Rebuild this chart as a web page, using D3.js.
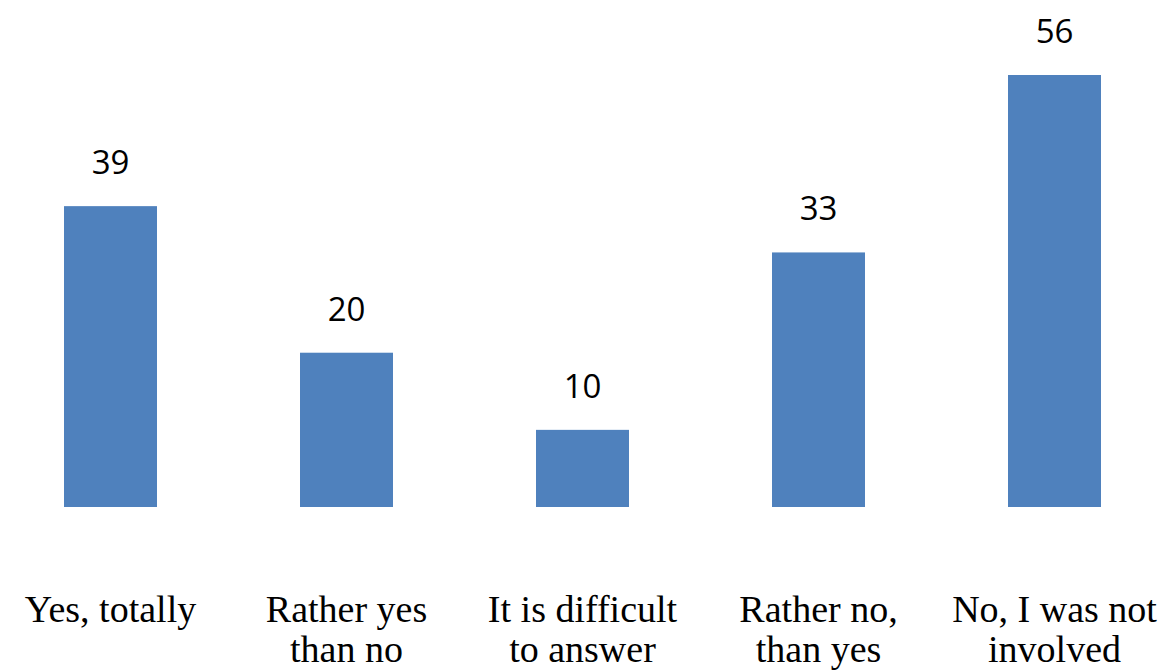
<!DOCTYPE html>
<html>
<head>
<meta charset="utf-8">
<script src="https://cdn.jsdelivr.net/npm/d3@7"></script>
<style>
  html, body { margin: 0; padding: 0; background: #ffffff; }
  svg { display: block; }
</style>
</head>
<body>
<script>
// Survey answers and their shares
const categories = [
  ["Yes, totally"],
  ["Rather yes", "than no"],
  ["It is difficult", "to answer"],
  ["Rather no,", "than yes"],
  ["No, I was not", "involved"]
];
const values = [39, 20, 10, 33, 56];

const width = 1161, height = 671;
const baseline = 507;

const svg = d3.select("body").append("svg")
  .attr("width", width)
  .attr("height", height);

const x = d3.scaleBand()
  .domain(d3.range(values.length))
  .range([-7.5, 1172.5])
  .paddingInner(0.606)
  .paddingOuter(0.303);

const y = d3.scaleLinear()
  .domain([0, 56])
  .range([baseline, 75]);

// Bars
svg.selectAll("rect.bar")
  .data(values)
  .join("rect")
  .attr("class", "bar")
  .attr("x", (d, i) => x(i))
  .attr("y", d => y(d))
  .attr("width", x.bandwidth())
  .attr("height", d => y(0) - y(d))
  .attr("fill", "#4f81bd");

// Value labels above bars
svg.selectAll("text.value")
  .data(values)
  .join("text")
  .attr("class", "value")
  .attr("x", (d, i) => x(i) + x.bandwidth() / 2)
  .attr("y", d => y(d) - 32)
  .attr("text-anchor", "middle")
  .attr("font-family", "'Open Sans', 'Liberation Sans', sans-serif")
  .attr("font-size", 33)
  .attr("fill", "#000")
  .text(d => d);

// Category labels below the bars, one text element per line
const labelGroups = svg.selectAll("g.cat")
  .data(categories)
  .join("g")
  .attr("class", "cat")
  .attr("transform", (d, i) => `translate(${x(i) + x.bandwidth() / 2},622)`);

labelGroups.selectAll("text")
  .data(d => d)
  .join("text")
  .attr("text-anchor", "middle")
  .attr("font-family", "'Liberation Serif', 'Times New Roman', serif")
  .attr("font-size", 38)
  .attr("fill", "#000")
  .attr("y", (d, j) => j * 40)
  .text(d => d);
</script>
</body>
</html>
